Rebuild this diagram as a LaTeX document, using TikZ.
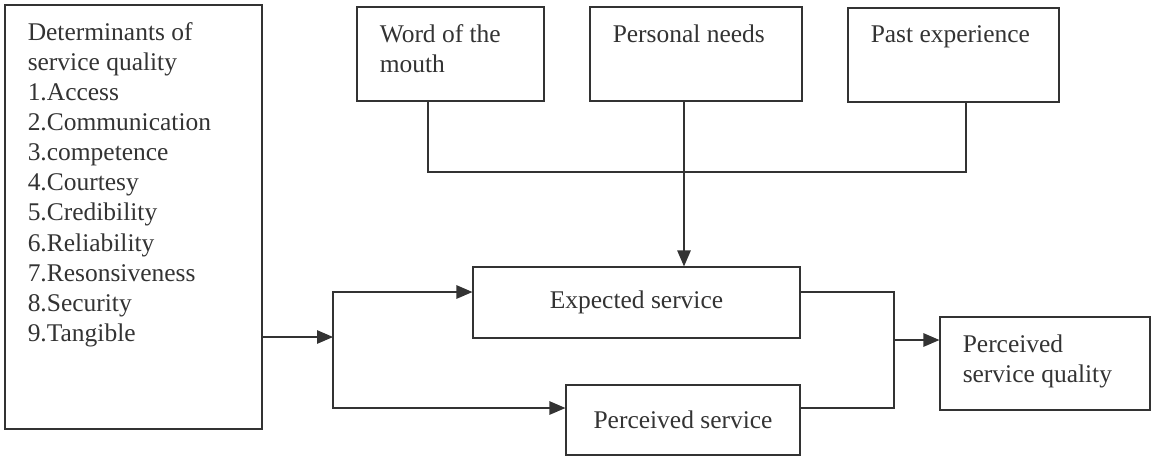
\documentclass[tikz,border=0pt]{standalone}
\usepackage{fontspec}
\setmainfont{Liberation Serif}
\usetikzlibrary{arrows.meta,calc}

\begin{document}
\begin{tikzpicture}[x=0.02cm,y=-0.02cm,
		every node/.style={font=\fontsize{14.5}{17.1}\selectfont},
		box/.style={draw=black!80,line width=0.7pt,text=black!80},
		txt/.style={anchor=north west,inner sep=0pt,align=left,text=black!80},
		link/.style={draw=black!80,line width=0.7pt},
		arr/.style={link,-{Triangle[length=0.32cm,width=0.27cm]}}]
		\useasboundingbox (0,0) rectangle (1158,457);
		% boxes, centres in pixels of the scan
		\node[box,minimum width=5.14cm,minimum height=8.48cm] (det) at (133.5,217) {};
		\node[box,minimum width=3.74cm,minimum height=1.88cm] (wom) at (450.5,54) {};
		\node[box,minimum width=4.24cm,minimum height=1.88cm] (pn) at (696,54) {};
		\node[box,minimum width=4.22cm,minimum height=1.88cm] (pe) at (953.5,55) {};
		\node[box,minimum width=6.54cm,minimum height=1.42cm] (exp) at (636.5,302.5) {Expected service};
		\node[box,minimum width=4.68cm,minimum height=1.40cm] (ps) at (683,420) {Perceived service};
		\node[box,minimum width=4.2cm,minimum height=1.86cm] (psq) at (1045,363.5) {};
		
		\node[txt] (dettext) at ($(det.north west)+(23,18)$) {Determinants of\\service quality\\1.Access\\2.Communication\\3.competence\\4.Courtesy\\5.Credibility\\6.Reliability\\7.Resonsiveness\\8.Security\\9.Tangible};
		\node[txt] (womtext) at ($(wom.north west)+(23,18)$) {Word of the\\mouth};
		\node[txt] (pntext) at ($(pn.north west)+(23,18)$) {Personal needs};
		\node[txt] (petext) at ($(pe.north west)+(23,18)$) {Past experience};
		\node[txt] (psqtext) at ($(psq.north west)+(23,18)$) {Perceived\\service quality};
		
		\coordinate (womfoot) at ([xshift=-0.45cm]wom.south);
		\coordinate (pnfoot) at ([xshift=-0.24cm]pn.south);
		\coordinate (pefoot) at ([xshift=0.25cm]pe.south);
		\coordinate (bus) at (0,172);
		\draw[link] (womfoot) -- (womfoot |- bus) -| (pefoot);
		\draw[arr] (pnfoot) -- (pnfoot |- exp.north);
		
		\coordinate (split) at (333,337);
		\coordinate (expin) at ([yshift=0.21cm]exp.west);
		\coordinate (psin) at ([yshift=0.24cm]ps.west);
		\draw[arr] (det.east |- split) -- (split);
		\draw[arr] (split) |- (expin);
		\draw[arr] (split) |- (psin);
		
		\coordinate (merge) at (894,340);
		\coordinate (expout) at ([yshift=0.21cm]exp.east);
		\coordinate (psout) at ([yshift=0.24cm]ps.east);
		\draw[link] (expout) -| (merge) |- (psout);
		\draw[arr] (merge) -- (merge -| psq.west);
	\end{tikzpicture}
\end{document}
